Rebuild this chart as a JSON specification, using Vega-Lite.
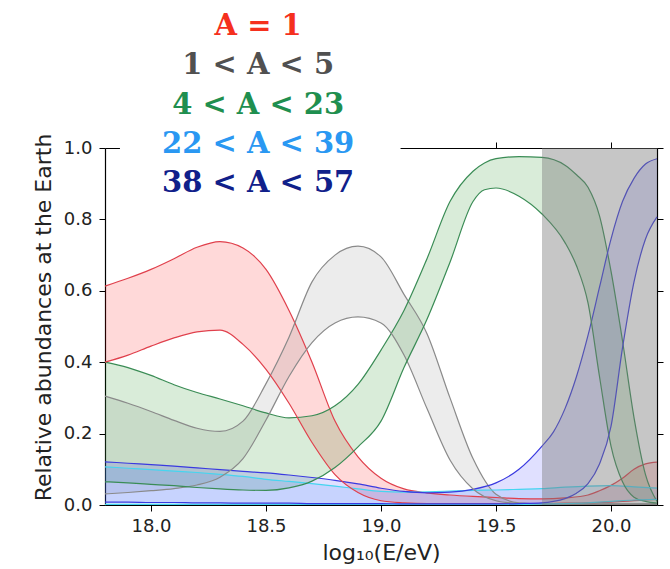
{
  "$schema": "https://vega.github.io/schema/vega-lite/v6.json",
  "width": 552,
  "height": 357,
  "autosize": {"type": "none"},
  "padding": {"left": 105, "top": 148, "right": 13, "bottom": 64},
  "config": {"view": {"stroke": null}, "font": "DejaVu Sans"},
  "datasets": {
    "bands": [
      {"band": "A = 1", "x": 17.8, "lo": 0.40, "hi": 0.613},
      {"band": "A = 1", "x": 17.9, "lo": 0.42, "hi": 0.635},
      {"band": "A = 1", "x": 18.0, "lo": 0.445, "hi": 0.66},
      {"band": "A = 1", "x": 18.1, "lo": 0.468, "hi": 0.69},
      {"band": "A = 1", "x": 18.2, "lo": 0.485, "hi": 0.722},
      {"band": "A = 1", "x": 18.3, "lo": 0.49, "hi": 0.738},
      {"band": "A = 1", "x": 18.4, "lo": 0.45, "hi": 0.72},
      {"band": "A = 1", "x": 18.5, "lo": 0.38, "hi": 0.66},
      {"band": "A = 1", "x": 18.6, "lo": 0.285, "hi": 0.545},
      {"band": "A = 1", "x": 18.7, "lo": 0.175, "hi": 0.40},
      {"band": "A = 1", "x": 18.8, "lo": 0.085, "hi": 0.235},
      {"band": "A = 1", "x": 18.9, "lo": 0.035, "hi": 0.135},
      {"band": "A = 1", "x": 19.0, "lo": 0.012, "hi": 0.075},
      {"band": "A = 1", "x": 19.1, "lo": 0.006, "hi": 0.045},
      {"band": "A = 1", "x": 19.2, "lo": 0.004, "hi": 0.034},
      {"band": "A = 1", "x": 19.3, "lo": 0.004, "hi": 0.028},
      {"band": "A = 1", "x": 19.4, "lo": 0.004, "hi": 0.024},
      {"band": "A = 1", "x": 19.5, "lo": 0.004, "hi": 0.021},
      {"band": "A = 1", "x": 19.6, "lo": 0.004, "hi": 0.018},
      {"band": "A = 1", "x": 19.7, "lo": 0.004, "hi": 0.017},
      {"band": "A = 1", "x": 19.8, "lo": 0.005, "hi": 0.02},
      {"band": "A = 1", "x": 19.9, "lo": 0.006, "hi": 0.028},
      {"band": "A = 1", "x": 19.95, "lo": 0.007, "hi": 0.04},
      {"band": "A = 1", "x": 20.0, "lo": 0.008, "hi": 0.055},
      {"band": "A = 1", "x": 20.05, "lo": 0.01, "hi": 0.075},
      {"band": "A = 1", "x": 20.1, "lo": 0.012, "hi": 0.1},
      {"band": "A = 1", "x": 20.15, "lo": 0.014, "hi": 0.115},
      {"band": "A = 1", "x": 20.2, "lo": 0.016, "hi": 0.12},

      {"band": "1 < A < 5", "x": 17.8, "lo": 0.031, "hi": 0.305},
      {"band": "1 < A < 5", "x": 17.9, "lo": 0.035, "hi": 0.285},
      {"band": "1 < A < 5", "x": 18.0, "lo": 0.04, "hi": 0.262},
      {"band": "1 < A < 5", "x": 18.1, "lo": 0.046, "hi": 0.237},
      {"band": "1 < A < 5", "x": 18.2, "lo": 0.056, "hi": 0.215},
      {"band": "1 < A < 5", "x": 18.3, "lo": 0.078, "hi": 0.206},
      {"band": "1 < A < 5", "x": 18.4, "lo": 0.13, "hi": 0.235},
      {"band": "1 < A < 5", "x": 18.5, "lo": 0.238, "hi": 0.34},
      {"band": "1 < A < 5", "x": 18.6, "lo": 0.36, "hi": 0.47},
      {"band": "1 < A < 5", "x": 18.7, "lo": 0.455, "hi": 0.625},
      {"band": "1 < A < 5", "x": 18.8, "lo": 0.51, "hi": 0.70},
      {"band": "1 < A < 5", "x": 18.9, "lo": 0.527, "hi": 0.725},
      {"band": "1 < A < 5", "x": 19.0, "lo": 0.51, "hi": 0.695},
      {"band": "1 < A < 5", "x": 19.1, "lo": 0.42, "hi": 0.59},
      {"band": "1 < A < 5", "x": 19.2, "lo": 0.27, "hi": 0.48},
      {"band": "1 < A < 5", "x": 19.3, "lo": 0.126, "hi": 0.30},
      {"band": "1 < A < 5", "x": 19.4, "lo": 0.045, "hi": 0.13},
      {"band": "1 < A < 5", "x": 19.5, "lo": 0.012, "hi": 0.03},
      {"band": "1 < A < 5", "x": 19.6, "lo": 0.004, "hi": 0.006},
      {"band": "1 < A < 5", "x": 19.7, "lo": 0.002, "hi": 0.003},
      {"band": "1 < A < 5", "x": 19.9, "lo": 0.002, "hi": 0.003},
      {"band": "1 < A < 5", "x": 20.2, "lo": 0.002, "hi": 0.003},

      {"band": "4 < A < 23", "x": 17.8, "lo": 0.065, "hi": 0.40},
      {"band": "4 < A < 23", "x": 17.9, "lo": 0.062, "hi": 0.385},
      {"band": "4 < A < 23", "x": 18.0, "lo": 0.058, "hi": 0.363},
      {"band": "4 < A < 23", "x": 18.1, "lo": 0.054, "hi": 0.337},
      {"band": "4 < A < 23", "x": 18.2, "lo": 0.049, "hi": 0.315},
      {"band": "4 < A < 23", "x": 18.3, "lo": 0.045, "hi": 0.297},
      {"band": "4 < A < 23", "x": 18.4, "lo": 0.042, "hi": 0.278},
      {"band": "4 < A < 23", "x": 18.5, "lo": 0.041, "hi": 0.258},
      {"band": "4 < A < 23", "x": 18.6, "lo": 0.048, "hi": 0.244},
      {"band": "4 < A < 23", "x": 18.7, "lo": 0.067, "hi": 0.25},
      {"band": "4 < A < 23", "x": 18.8, "lo": 0.105, "hi": 0.278},
      {"band": "4 < A < 23", "x": 18.9, "lo": 0.163, "hi": 0.338},
      {"band": "4 < A < 23", "x": 19.0, "lo": 0.235, "hi": 0.434},
      {"band": "4 < A < 23", "x": 19.1, "lo": 0.385, "hi": 0.545},
      {"band": "4 < A < 23", "x": 19.2, "lo": 0.52, "hi": 0.69},
      {"band": "4 < A < 23", "x": 19.3, "lo": 0.68, "hi": 0.85},
      {"band": "4 < A < 23", "x": 19.4, "lo": 0.85, "hi": 0.935},
      {"band": "4 < A < 23", "x": 19.45, "lo": 0.883, "hi": 0.958},
      {"band": "4 < A < 23", "x": 19.5, "lo": 0.888, "hi": 0.97},
      {"band": "4 < A < 23", "x": 19.6, "lo": 0.865, "hi": 0.976},
      {"band": "4 < A < 23", "x": 19.7, "lo": 0.815, "hi": 0.974},
      {"band": "4 < A < 23", "x": 19.8, "lo": 0.735, "hi": 0.952},
      {"band": "4 < A < 23", "x": 19.85, "lo": 0.67, "hi": 0.925},
      {"band": "4 < A < 23", "x": 19.9, "lo": 0.566, "hi": 0.89},
      {"band": "4 < A < 23", "x": 19.95, "lo": 0.36, "hi": 0.81},
      {"band": "4 < A < 23", "x": 20.0, "lo": 0.165, "hi": 0.655},
      {"band": "4 < A < 23", "x": 20.05, "lo": 0.065, "hi": 0.46},
      {"band": "4 < A < 23", "x": 20.1, "lo": 0.022, "hi": 0.245},
      {"band": "4 < A < 23", "x": 20.15, "lo": 0.01, "hi": 0.085},
      {"band": "4 < A < 23", "x": 20.2, "lo": 0.005, "hi": 0.01},

      {"band": "22 < A < 39", "x": 17.8, "lo": 0.002, "hi": 0.107},
      {"band": "22 < A < 39", "x": 17.9, "lo": 0.002, "hi": 0.103},
      {"band": "22 < A < 39", "x": 18.0, "lo": 0.002, "hi": 0.099},
      {"band": "22 < A < 39", "x": 18.1, "lo": 0.002, "hi": 0.095},
      {"band": "22 < A < 39", "x": 18.2, "lo": 0.002, "hi": 0.091},
      {"band": "22 < A < 39", "x": 18.3, "lo": 0.002, "hi": 0.086},
      {"band": "22 < A < 39", "x": 18.4, "lo": 0.002, "hi": 0.08},
      {"band": "22 < A < 39", "x": 18.5, "lo": 0.002, "hi": 0.072},
      {"band": "22 < A < 39", "x": 18.6, "lo": 0.002, "hi": 0.066},
      {"band": "22 < A < 39", "x": 18.7, "lo": 0.002, "hi": 0.06},
      {"band": "22 < A < 39", "x": 18.8, "lo": 0.002, "hi": 0.053},
      {"band": "22 < A < 39", "x": 18.9, "lo": 0.002, "hi": 0.045},
      {"band": "22 < A < 39", "x": 19.0, "lo": 0.002, "hi": 0.038},
      {"band": "22 < A < 39", "x": 19.1, "lo": 0.002, "hi": 0.036},
      {"band": "22 < A < 39", "x": 19.2, "lo": 0.002, "hi": 0.037},
      {"band": "22 < A < 39", "x": 19.3, "lo": 0.002, "hi": 0.039},
      {"band": "22 < A < 39", "x": 19.4, "lo": 0.002, "hi": 0.041},
      {"band": "22 < A < 39", "x": 19.5, "lo": 0.002, "hi": 0.042},
      {"band": "22 < A < 39", "x": 19.6, "lo": 0.002, "hi": 0.044},
      {"band": "22 < A < 39", "x": 19.7, "lo": 0.003, "hi": 0.046},
      {"band": "22 < A < 39", "x": 19.8, "lo": 0.004, "hi": 0.05},
      {"band": "22 < A < 39", "x": 19.9, "lo": 0.006, "hi": 0.053},
      {"band": "22 < A < 39", "x": 20.0, "lo": 0.01, "hi": 0.054},
      {"band": "22 < A < 39", "x": 20.1, "lo": 0.014, "hi": 0.051},
      {"band": "22 < A < 39", "x": 20.2, "lo": 0.016, "hi": 0.047},

      {"band": "38 < A < 57", "x": 17.8, "lo": 0.008, "hi": 0.121},
      {"band": "38 < A < 57", "x": 17.9, "lo": 0.008, "hi": 0.117},
      {"band": "38 < A < 57", "x": 18.0, "lo": 0.007, "hi": 0.113},
      {"band": "38 < A < 57", "x": 18.1, "lo": 0.007, "hi": 0.109},
      {"band": "38 < A < 57", "x": 18.2, "lo": 0.006, "hi": 0.104},
      {"band": "38 < A < 57", "x": 18.3, "lo": 0.006, "hi": 0.099},
      {"band": "38 < A < 57", "x": 18.4, "lo": 0.005, "hi": 0.094},
      {"band": "38 < A < 57", "x": 18.5, "lo": 0.005, "hi": 0.09},
      {"band": "38 < A < 57", "x": 18.6, "lo": 0.005, "hi": 0.084},
      {"band": "38 < A < 57", "x": 18.7, "lo": 0.004, "hi": 0.077},
      {"band": "38 < A < 57", "x": 18.8, "lo": 0.004, "hi": 0.069},
      {"band": "38 < A < 57", "x": 18.9, "lo": 0.004, "hi": 0.059},
      {"band": "38 < A < 57", "x": 19.0, "lo": 0.004, "hi": 0.047},
      {"band": "38 < A < 57", "x": 19.1, "lo": 0.003, "hi": 0.038},
      {"band": "38 < A < 57", "x": 19.2, "lo": 0.003, "hi": 0.034},
      {"band": "38 < A < 57", "x": 19.3, "lo": 0.003, "hi": 0.036},
      {"band": "38 < A < 57", "x": 19.4, "lo": 0.003, "hi": 0.044},
      {"band": "38 < A < 57", "x": 19.5, "lo": 0.003, "hi": 0.062},
      {"band": "38 < A < 57", "x": 19.6, "lo": 0.004, "hi": 0.10},
      {"band": "38 < A < 57", "x": 19.7, "lo": 0.006, "hi": 0.165},
      {"band": "38 < A < 57", "x": 19.75, "lo": 0.01, "hi": 0.205},
      {"band": "38 < A < 57", "x": 19.8, "lo": 0.018, "hi": 0.27},
      {"band": "38 < A < 57", "x": 19.85, "lo": 0.033, "hi": 0.36},
      {"band": "38 < A < 57", "x": 19.9, "lo": 0.06, "hi": 0.475},
      {"band": "38 < A < 57", "x": 19.95, "lo": 0.115, "hi": 0.61},
      {"band": "38 < A < 57", "x": 20.0, "lo": 0.22, "hi": 0.745},
      {"band": "38 < A < 57", "x": 20.05, "lo": 0.44, "hi": 0.85},
      {"band": "38 < A < 57", "x": 20.1, "lo": 0.625, "hi": 0.915},
      {"band": "38 < A < 57", "x": 20.15, "lo": 0.745, "hi": 0.955},
      {"band": "38 < A < 57", "x": 20.2, "lo": 0.807, "hi": 0.97}
    ],
    "legend": [
      {"rank": 1, "label": "A = 1"},
      {"rank": 2, "label": "1 < A < 5"},
      {"rank": 3, "label": "4 < A < 23"},
      {"rank": 4, "label": "22 < A < 39"},
      {"rank": 5, "label": "38 < A < 57"}
    ]
  },
  "resolve": {"scale": {"x": "independent", "y": "independent"}, "axis": {"x": "independent", "y": "independent"}},
  "layer": [
    {
      "data": {"name": "bands"},
      "mark": {"type": "area", "interpolate": "monotone"},
      "encoding": {
        "x": {"field": "x", "type": "quantitative", "scale": {"domain": [17.8, 20.2], "nice": false, "zero": false},
          "axis": {"orient": "bottom", "values": [18.0, 18.5, 19.0, 19.5, 20.0], "format": ".1f", "title": "log₁₀(E/eV)", "grid": false,
            "labelFont": "DejaVu Sans", "labelFontSize": 18, "labelColor": "#222", "labelPadding": 6,
            "titleFont": "DejaVu Sans", "titleFontSize": 22, "titleFontWeight": "normal", "titleColor": "#222", "titlePadding": 7,
            "tickSize": 6, "tickColor": "#000", "domainColor": "#000", "tickWidth": 1, "domainWidth": 1.2}},
        "y": {"field": "hi", "type": "quantitative", "scale": {"domain": [0, 1], "nice": false},
          "axis": {"orient": "left", "values": [0, 0.2, 0.4, 0.6, 0.8, 1.0], "format": ".1f", "title": "Relative abundances at the Earth", "grid": false,
            "labelFont": "DejaVu Sans", "labelFontSize": 18, "labelColor": "#222", "labelPadding": 7,
            "titleFont": "DejaVu Sans", "titleFontSize": 22, "titleFontWeight": "normal", "titleColor": "#222", "titlePadding": 8, "titleY": 169,
            "tickSize": 6, "tickColor": "#000", "domainColor": "#000", "tickWidth": 1, "domainWidth": 1.2}},
        "y2": {"field": "lo"},
        "fill": {"field": "band", "type": "nominal", "legend": null,
          "scale": {"domain": ["A = 1", "1 < A < 5", "4 < A < 23", "22 < A < 39", "38 < A < 57"], "range": ["#ff0000", "#808080", "#008000", "#3d9cf5", "#3030ff"]}},
        "fillOpacity": {"field": "band", "type": "ordinal", "legend": null,
          "scale": {"domain": ["A = 1", "1 < A < 5", "4 < A < 23", "22 < A < 39", "38 < A < 57"], "range": [0.15, 0.15, 0.12, 0.16, 0.08]}}
      }
    },
    {
      "data": {"name": "bands"},
      "mark": {"type": "line", "interpolate": "monotone", "strokeWidth": 1.2},
      "encoding": {
        "x": {"field": "x", "type": "quantitative", "scale": {"domain": [17.8, 20.2], "nice": false, "zero": false}, "axis": null},
        "y": {"field": "hi", "type": "quantitative", "scale": {"domain": [0, 1], "nice": false}, "axis": null},
        "stroke": {"field": "band", "type": "nominal", "legend": null,
          "scale": {"domain": ["A = 1", "1 < A < 5", "4 < A < 23", "22 < A < 39", "38 < A < 57"], "range": ["#e0404c", "#8a8a8a", "#3a8c55", "#45d5f0", "#3a3ae0"]}}
      }
    },
    {
      "data": {"name": "bands"},
      "mark": {"type": "line", "interpolate": "monotone", "strokeWidth": 1.2},
      "encoding": {
        "x": {"field": "x", "type": "quantitative", "scale": {"domain": [17.8, 20.2], "nice": false, "zero": false}, "axis": null},
        "y": {"field": "lo", "type": "quantitative", "scale": {"domain": [0, 1], "nice": false}, "axis": null},
        "stroke": {"field": "band", "type": "nominal", "legend": null,
          "scale": {"domain": ["A = 1", "1 < A < 5", "4 < A < 23", "22 < A < 39", "38 < A < 57"], "range": ["#e0404c", "#8a8a8a", "#3a8c55", "#45d5f0", "#3a3ae0"]}}
      }
    },
    {
      "data": {"values": [{}]},
      "mark": {"type": "rect", "color": "#777777", "opacity": 0.42},
      "encoding": {
        "x": {"datum": 19.7, "type": "quantitative", "scale": {"domain": [17.8, 20.2], "nice": false, "zero": false},
          "axis": {"orient": "top", "values": [18.0, 18.5, 19.0, 19.5, 20.0], "labels": false, "title": null, "grid": false,
            "tickSize": 6, "tickColor": "#000", "domainColor": "#000", "domainWidth": 1.2}},
        "x2": {"datum": 20.2},
        "y": {"datum": 0, "type": "quantitative", "scale": {"domain": [0, 1], "nice": false},
          "axis": {"orient": "right", "values": [0, 0.2, 0.4, 0.6, 0.8, 1.0], "labels": false, "title": null, "grid": false,
            "tickSize": 6, "tickColor": "#000", "domainColor": "#000", "domainWidth": 1.2}},
        "y2": {"datum": 1}
      }
    },
    {
      "data": {"values": [{}]},
      "mark": {"type": "rect", "color": "white", "opacity": 1},
      "encoding": {
        "x": {"datum": 17.865, "type": "quantitative", "scale": {"domain": [17.8, 20.2], "nice": false, "zero": false}, "axis": null},
        "x2": {"datum": 19.085},
        "y": {"datum": 0.86, "type": "quantitative", "scale": {"domain": [0, 1], "nice": false}, "axis": null},
        "y2": {"datum": 1.45}
      }
    },
    {
      "data": {"name": "legend"},
      "mark": {"type": "text", "font": "DejaVu Serif", "fontWeight": "bold", "fontSize": 29, "align": "center", "baseline": "alphabetic"},
      "encoding": {
        "x": {"datum": 18.466, "type": "quantitative", "scale": {"domain": [17.8, 20.2], "nice": false, "zero": false}, "axis": null},
        "y": {"field": "rank", "type": "quantitative", "scale": {"domain": [3.879, 12.975], "reverse": true, "nice": false, "zero": false}, "axis": null},
        "text": {"field": "label"},
        "color": {"field": "label", "type": "nominal", "legend": null,
          "scale": {"domain": ["A = 1", "1 < A < 5", "4 < A < 23", "22 < A < 39", "38 < A < 57"], "range": ["#f5301e", "#505050", "#1f8f4f", "#2a98f2", "#10208a"]}}
      }
    }
  ]
}
